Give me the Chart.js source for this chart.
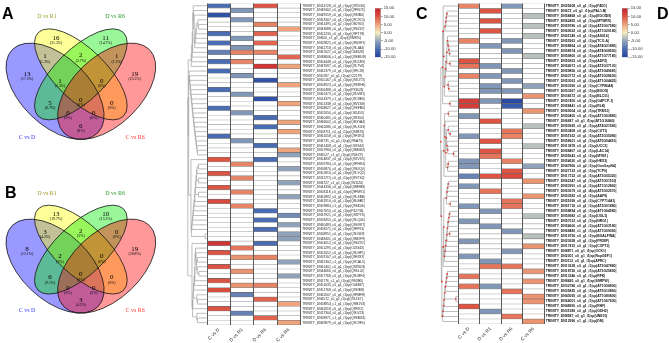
<!DOCTYPE html>
<html lang="en">
<head>
<meta charset="utf-8">
<title>Venn diagrams and DEG heatmaps</title>
<script src="https://cdn.jsdelivr.net/npm/chart.js@4.4.1/dist/chart.umd.min.js"></script>
<style>
  body { margin: 0; background: #fff; }
  #fig { position: relative; width: 669px; height: 343px; overflow: hidden; }
  #fig canvas { position: absolute; }
  .tag { position: absolute; font: bold 16px "Liberation Sans", Arial, sans-serif; line-height: 16px; color: #000; }
</style>
</head>
<body>
<div id="fig">
  <canvas id="vennA" width="165" height="170" style="left:0;top:0"></canvas>
  <canvas id="vennB" width="165" height="166" style="left:0;top:177px"></canvas>
  <canvas id="heat1" width="235" height="343" style="left:165px;top:0"></canvas>
  <canvas id="bar1" width="35" height="66" style="left:370px;top:0"></canvas>
  <canvas id="heat2" width="235" height="343" style="left:434px;top:0"></canvas>
  <canvas id="bar2" width="35" height="66" style="left:617px;top:0"></canvas>
  <div class="tag" style="left:2px;top:6px">A</div>
  <div class="tag" style="left:5px;top:185px">B</div>
  <div class="tag" style="left:416px;top:6px">C</div>
  <div class="tag" style="left:657px;top:6px">D</div>
</div>
<script>
  const _ = null;

  // venn regions, same order for both diagrams
  const vennRegions = ['C vs D', 'D vs R1', 'D vs R6', 'C vs R6',
    'C vs D & D vs R1', 'D vs R1 & D vs R6', 'D vs R6 & C vs R6',
    'C vs D & D vs R1 & D vs R6', 'D vs R1 & D vs R6 & C vs R6',
    'C vs D & D vs R6', 'D vs R1 & C vs R6', 'all four',
    'C vs D & D vs R6 & C vs R6', 'C vs D & D vs R1 & C vs R6', 'C vs D & C vs R6'];
  const vennACounts = [13, 16, 11, 19, 1, 2, 1, 1, 0, 5, 0, 0, 0, 0, 6];
  const vennBCounts = [8, 13, 10, 19, 3, 2, 0, 2, 0, 6, 0, 0, 0, 0, 3];
  const setNames = ['C vs D', 'D vs R1', 'D vs R6', 'C vs R6'];

  const contrasts = ['C vs D', 'D vs R1', 'D vs R6', 'C vs R6'];

  const hm1Genes = [
    'TRINITY_DN14728_c0_g1_i1|sp|Q9T0G0|', 'TRINITY_DN49402_c0_g1_i1|sp|Q9FN73|', 'TRINITY_DN49559_c0_g1_i1|sp|Q9SIB4|',
    'TRINITY_DN53307_c0_g1_i1|sp|Q9C9C5|', 'TRINITY_DN61495_c0_g2_i1|sp|O80763|', 'TRINITY_DN43688_c0_g1_i1|sp|Q9SZ67|',
    'TRINITY_DN51230_c0_g1_i1|sp|Q9FT78|', 'TRINITY_DN600_c1_g1_i1|sp|Q9M8T0|', 'TRINITY_DN59825_c0_g1_i1|sp|Q8W4F1|',
    'TRINITY_DN61718_c0_g1_i1|sp|Q9LJA4|', 'TRINITY_DN67027_c0_g2_i1|sp|O64628|', 'TRINITY_DN38606_c1_g1_i1|sp|Q9SMU8|',
    'TRINITY_DN54448_c0_g1_i1|sp|Q9LKR3|', 'TRINITY_DN37097_c0_g1_i1|sp|Q9LTV6|', 'TRINITY_DN62379_c0_g1_i1|sp|Q9FL28|',
    'TRINITY_DN5287_c0_g1_i1|sp|O22179|', 'TRINITY_DN55167_c0_g1_i1|sp|Q9ZUT3|', 'TRINITY_DN58923_c0_g1_i1|sp|Q9SRH6|',
    'TRINITY_DN56488_c0_g1_i1|sp|P93026|', 'TRINITY_DN62473_c0_g1_i1|sp|Q9LVM1|', 'TRINITY_DN14379_c1_g1_i1|sp|Q9C8E6|',
    'TRINITY_DN51338_c0_g1_i1|sp|Q8VZS8|', 'TRINITY_DN58827_c0_g1_i1|sp|Q9SFB0|', 'TRINITY_DN52056_c0_g1_i1|sp|O65453|',
    'TRINITY_DN60481_c0_g1_i1|sp|Q39204|', 'TRINITY_DN66602_c0_g1_i1|sp|Q8GYA4|', 'TRINITY_DN62086_c0_g1_i1|sp|Q9LXG3|',
    'TRINITY_DN58711_c0_g1_i1|sp|Q94BT6|', 'TRINITY_DN61058_c0_g1_i1|sp|Q9FJR2|', 'TRINITY_DN6735_c0_g1_i1|sp|Q9SA73|',
    'TRINITY_DN61408_c0_g1_i1|sp|O49344|', 'TRINITY_DN57984_c0_g1_i1|sp|Q9M0E2|', 'TRINITY_DN6527_c1_g1_i1|sp|Q9LEZ9|',
    'TRINITY_DN54837_c0_g1_i1|sp|Q9ZVX5|', 'TRINITY_DN59784_c0_g1_i1|sp|Q9FHK4|', 'TRINITY_DN56870_c0_g1_i1|sp|Q9SJQ0|',
    'TRINITY_DN52816_c0_g1_i1|sp|Q9LYQ2|', 'TRINITY_DN11770_c0_g1_i1|sp|Q9STS2|', 'TRINITY_DN6727_c1_g1_i1|sp|Q9ZUZ0|',
    'TRINITY_DN44336_c0_g1_i1|sp|Q9M9B3|', 'TRINITY_DN58118_c0_g1_i1|sp|Q9FMV1|', 'TRINITY_DN61892_c0_g1_i1|sp|Q9LSM6|',
    'TRINITY_DN61910_c0_g1_i1|sp|Q8LBB2|', 'TRINITY_DN59884_c1_g1_i1|sp|Q9SK06|', 'TRINITY_DN57050_c0_g1_i1|sp|P42736|',
    'TRINITY_DN37921_c0_g1_i1|sp|Q9ZPY6|', 'TRINITY_DN58455_c0_g1_i1|sp|Q9LQ04|', 'TRINITY_DN60483_c0_g1_i1|sp|Q9SVK7|',
    'TRINITY_DN58271_c0_g1_i1|sp|Q9FF91|', 'TRINITY_DN58951_c0_g1_i1|sp|Q9LN49|', 'TRINITY_DN48401_c0_g1_i1|sp|Q9M2F9|',
    'TRINITY_DN54612_c0_g1_i1|sp|Q9SZX2|', 'TRINITY_DN51295_c0_g1_i1|sp|O23343|', 'TRINITY_DN52052_c0_g1_i1|sp|Q9LHP1|',
    'TRINITY_DN59107_c0_g1_i1|sp|Q9FZ87|', 'TRINITY_DN61302_c1_g1_i1|sp|Q9CAL5|', 'TRINITY_DN61402_c0_g1_i1|sp|Q9ZNU3|',
    'TRINITY_DN44666_c0_g1_i1|sp|Q9SLJ2|', 'TRINITY_DN57768_c0_g1_i1|sp|Q9LMF4|', 'TRINITY_DN1776_c1_g1_i1|sp|Q9SXB5|',
    'TRINITY_DN51035_c0_g1_i1|sp|O04887|', 'TRINITY_DN51768_c0_g1_i1|sp|Q9SIM9|', 'TRINITY_DN62007_c0_g1_i1|sp|Q9FMF8|',
    'TRINITY_DN6572_c0_g1_i1|sp|Q9LZS7|', 'TRINITY_DN58854_c1_g1_i1|sp|Q9M1V3|', 'TRINITY_DN62618_c0_g1_i1|sp|Q9FIK7|',
    'TRINITY_DN17304_c0_g1_i1|sp|Q9LV23|', 'TRINITY_DN58971_c1_g1_i1|sp|Q9SMZ4|', 'TRINITY_DN69879_c0_g1_i1|sp|Q9C9F4|'
  ];
  const hm1CvsD = [-10,_,-13,_,_,_,-10,_,-10,_, -8,_,-10,_,-10,_,_,_,-10,_, _,_,-10,_,_,_,_,_,-10,_,
    _,_,_,10,_,_,10,_,_,10, _,_,11,_,_,_,_,_,_,_, _,13,_,10,_,_,10,_,_,10, _,11,_,_,_,10,_,_,_];
  const hm1DvsR1 = [_,-6,_,-6,_,_,_,-6,_,-6, 7,_,7,_,_,-6,_,_,_,-6, _,_,_,-6,_,_,_,_,_,-6,
    _,_,_,_,7,_,_,7,_,_, 7,_,_,7,_,_,_,_,_,_, _,_,8,_,6,_,_,6,_,_, 6,_,-8,_,_,_,-8,_,_];
  const hm1DvsR6 = [10,_,_,_,7,_,9,_,9,_, 7,_,_,13,_,_,-13,_,_,_, -13,_,_,_,-10,_,-10,_,_,_,
    -10,_,_,-10,_,_,_,_,_,_, _,_,_,_,-10,_,-10,_,-10,_, _,-10,_,_,7,_,_,_,_,_, 7,_,_,9,_,_,_,9,_];
  const hm1CvsR6 = [_,_,_,_,_,5,_,_,_,_, _,9,_,5,_,_,_,5,_,_, _,5,_,_,_,5,_,5,_,_,
    _,5,-5,_,_,-5,_,_,-5,_, _,-5,_,_,_,-7,_,-5,_,-5, -5,_,_,_,_,-5,_,_,-5,_, _,_,_,_,5,_,_,_,5];

  const hm2Genes = [
    'TRINITY_DN25608_c0_g1_i1|sp|FAD1|', 'TRINITY_DN672_c0_g1_i1|sp|PAL1.B|', 'TRINITY_DN58468_c0_g1_i1|sp|EGOID9|',
    'TRINITY_DN62455_c0_g1_i1|sp|MTWRX|', 'TRINITY_DN59786_c0_g2_i1|sp|AT2G07580|', 'TRINITY_DN69522_c0_g1_i1|sp|AT1G20180|',
    'TRINITY_DN61549_c0_g1_i1|sp|AS014|', 'TRINITY_DN55963_c0_g1_i1|sp|TCO-A|', 'TRINITY_DN58864_c0_g1_i1|sp|AT4G21880|',
    'TRINITY_DN58974_c0_g1_i1|sp|AT4G08550|', 'TRINITY_DN59800_c0_g1_i1|sp|AT1G77180|', 'TRINITY_DN59363_c0_g1_i1|sp|ADF2|',
    'TRINITY_DN54973_c0_g1_i1|sp|AT2G37130|', 'TRINITY_DN59856_c0_g1_i2|sp|AT3G49681|', 'TRINITY_DN63772_c0_g1_i1|sp|AT3G28600|',
    'TRINITY_DN53063_c0_g1_i1|sp|AT1G04425|', 'TRINITY_DN53290_c0_g1_i1|sp|CYP86A8|', 'TRINITY_DN53267_c0_g1_i1|sp|BGOS|',
    'TRINITY_DN38272_c0_g1_i1|sp|BLC01|', 'TRINITY_DN57400_c0_g1_i1|sp|GAPCP-1|', 'TRINITY_DN58441_c0_g1_i1|sp|RLK|',
    'TRINITY_DN69504_c0_g1_i1|sp|TRM10|', 'TRINITY_DN50405_c0_g1_i1|sp|AT1G53880|', 'TRINITY_DN6687_c0_g1_i1|sp|AT1G16840|',
    'TRINITY_DN50925_c0_g1_i1|sp|AT4G21580|', 'TRINITY_DN53408_c0_g1_i1|sp|CUT1|', 'TRINITY_DN51932_c0_g1_i1|sp|AT2G35080|',
    'TRINITY_DN58601_c0_g1_i1|sp|AT5G04410|', 'TRINITY_DN13878_c0_g1_i1|sp|UCC3|', 'TRINITY_DN58407_c0_g1_i1|sp|LAC14|',
    'TRINITY_DN55643_c0_g1_i1|sp|MYB1|', 'TRINITY_DN54620_c0_g1_i1|sp|HEX3|', 'TRINITY_DN47866_c0_g2_i1|sp|GoxGapN4|',
    'TRINITY_DN27122_c0_g1_i1|sp|TCP9|', 'TRINITY_DN17152_c0_g1_i1|sp|AT3G05320|', 'TRINITY_DN62347_c0_g1_i1|sp|AT3G01100|',
    'TRINITY_DN53991_c0_g1_i1|sp|AT1G12860|', 'TRINITY_DN53679_c0_g1_i4|sp|AT3G02570|', 'TRINITY_DN53582_c0_g1_i1|sp|AAP6|',
    'TRINITY_DN51699_c0_g1_i1|sp|CYP714A1|', 'TRINITY_DN51718_c0_g1_i1|sp|AT2G01880|', 'TRINITY_DN58894_c0_g1_i1|sp|AT1G64580|',
    'TRINITY_DN59982_c1_g1_i1|sp|UGL5|', 'TRINITY_DN57012_c0_g1_i1|sp|NRG1|', 'TRINITY_DN54606_c0_g1_i1|sp|AT1G03180|',
    'TRINITY_DN68480_c1_g1_i1|sp|AT1G09050|', 'TRINITY_DN19756_c0_g1_i1|sp|BGALFWA|', 'TRINITY_DN23658_c0_g1_i1|sp|PRXIIF|',
    'TRINITY_DN17815_c0_g1_i1|sp|COPT2|', 'TRINITY_DN8871_c0_g1_i1|sp|OCK1|', 'TRINITY_DN2001_c0_g1_i1|sp|RopGEF1|',
    'TRINITY_DN3112_c0_g1_i1|sp|APRC|', 'TRINITY_DN13638_c0_g1_i1|sp|AT2G47880|', 'TRINITY_DN18726_c0_g1_i1|sp|AT3G25800|',
    'TRINITY_DN13346_c0_g1_i1|sp|RFK|', 'TRINITY_DN8495_c0_g1_i1|sp|SSRPW|', 'TRINITY_DN32786_c0_g1_i1|sp|AT1G06800|',
    'TRINITY_DN35825_c0_g1_i1|sp|AT5G10860|', 'TRINITY_DN40095_c0_g1_i1|sp|AT1G80800|', 'TRINITY_DN64001_c0_g1_i1|sp|AT1G67600|',
    'TRINITY_DN48950_c0_g1_i1|sp|RHF|', 'TRINITY_DN31585_c0_g1_i1|sp|GDH2|', 'TRINITY_DN8587_c0_g1_i1|sp|UNE10|',
    'TRINITY_DN12996_c1_g1_i1|sp|DM|'
  ];
  const hm2CvsD = [7,_,_,_,_,_,_,7,_,_, _,10,8,_,7,_,_,_,_,12, 12,_,-6,_,_,_,-6,_,_,_,
    _,-6,-6,_,-8,_,-6,_,_,_, -6,_,_,-6,_,_,_,-6,_,_, -6,_,_,_,8,_,8,_,_,_, 10,_,_,_];
  const hm2DvsR1 = [_,10,_,10,_,10,_,_,-6,_, _,_,-6,_,-6,_,-6,-6,_,-6, _,_,_,10,_,_,_,10,_,10,
    8,_,_,_,10,_,_,8,_,_, _,-6,_,_,-6,_,_,_,_,_, _,-6,8,_,_,_,-6,_,_,_, _,-6,_,_];
  const hm2DvsR6 = [-6,_,_,_,_,_,_,-6,_,-6, _,_,_,-6,_,-6,_,-6,_,-14, -12,_,_,_,_,8,7,_,_,_,
    _,7,_,10,11,_,_,_,_,8, 8,_,_,_,_,-6,_,_,_,-6, _,_,8,_,_,_,_,8,_,_, _,_,8,_];
  const hm2CvsR6 = [_,_,-3,_,-3,_,-3,_,_,_, -3,_,_,_,_,_,-5,_,6,_, _,6,_,_,-3,_,_,_,-3,_,
    _,_,-5,_,_,6,_,_,6,_, _,_,-3,_,_,_,-3,_,6,_, _,_,_,6,_,6,_,_,6,6, _,_,_,6];

  // ---------- styling ----------
  Chart.defaults.font.family = '"Liberation Sans", Arial, sans-serif';
  Chart.defaults.animation = false;

  const colorStops = [[-15, [34, 64, 160]], [-10, [74, 108, 178]], [-5, [143, 162, 186]], [0, [245, 239, 191]],
    [5, [239, 164, 124]], [10, [220, 84, 68]], [15, [196, 32, 40]]];

  function cellColor(v) {
    if (v === null || v === undefined) return '#ffffff';
    for (let i = 0; i < colorStops.length - 1; i++) {
      const [v0, c0] = colorStops[i], [v1, c1] = colorStops[i + 1];
      if (v <= v1 || i === colorStops.length - 2) {
        const t = Math.max(0, Math.min(1, (v - v0) / (v1 - v0)));
        const c = c0.map((x, k) => Math.round(x + (c1[k] - x) * t));
        return 'rgb(' + c.join(',') + ')';
      }
    }
  }

  // ---------- venn ----------
  // VennDiagram quad layout in unit square
  const ellipses = [
    {x: 0.35, y: 0.47, a: 0.35, b: 0.20, rot: 135, fill: 'rgba(0,0,255,0.4)', text: '#3b3bff', lx: 0.187, ly: 0.199},
    {x: 0.50, y: 0.57, a: 0.35, b: 0.15, rot: 135, fill: 'rgba(255,255,0,0.4)', text: '#a0a030', lx: 0.303, ly: 0.912},
    {x: 0.50, y: 0.57, a: 0.35, b: 0.15, rot: 45, fill: 'rgba(0,235,0,0.4)', text: '#30a030', lx: 0.699, ly: 0.912},
    {x: 0.65, y: 0.47, a: 0.35, b: 0.20, rot: 45, fill: 'rgba(255,0,0,0.4)', text: '#ff3b3b', lx: 0.815, ly: 0.199}
  ];
  const regionPos = [[0.187, 0.571], [0.356, 0.784], [0.644, 0.784], [0.813, 0.571],
    [0.292, 0.675], [0.5, 0.681], [0.708, 0.675], [0.379, 0.528], [0.621, 0.528],
    [0.321, 0.400], [0.679, 0.400], [0.5, 0.419], [0.425, 0.339], [0.575, 0.339], [0.5, 0.262]];

  function vennPlugin(counts) {
    const total = counts.reduce((s, v) => s + v, 0);
    return {
      id: 'venn',
      afterDraw(chart) {
        const {ctx, scales: {x, y}} = chart;
        const sx = x.getPixelForValue(1) - x.getPixelForValue(0);
        const sy = y.getPixelForValue(0) - y.getPixelForValue(1);
        const shape = e => {
          ctx.save();
          ctx.translate(x.getPixelForValue(e.x), y.getPixelForValue(e.y));
          ctx.scale(sx, -sy);
          ctx.rotate(e.rot * Math.PI / 180);
          ctx.beginPath();
          ctx.ellipse(0, 0, e.a, e.b, 0, 0, 2 * Math.PI);
          ctx.restore();
        };
        ctx.save();
        ellipses.forEach(e => { shape(e); ctx.fillStyle = e.fill; ctx.fill(); });
        ctx.strokeStyle = '#111';
        ctx.lineWidth = 0.8;
        ellipses.forEach(e => { shape(e); ctx.stroke(); });

        ctx.textAlign = 'center';
        ctx.textBaseline = 'middle';
        ctx.fillStyle = '#000';
        counts.forEach((v, i) => {
          const px = x.getPixelForValue(regionPos[i][0]), py = y.getPixelForValue(regionPos[i][1]);
          ctx.font = '7px "Liberation Serif", serif';
          ctx.fillText(String(v), px, py);
          ctx.font = '3.8px "Liberation Serif", serif';
          ctx.fillText('(' + Math.round(v / total * 1000) / 10 + '%)', px, py + 5);
        });
        ctx.font = '6px "Liberation Serif", serif';
        setNames.forEach((name, i) => {
          const e = ellipses[i];
          ctx.fillStyle = e.text;
          ctx.fillText(name, x.getPixelForValue(e.lx), y.getPixelForValue(e.ly));
        });
        ctx.restore();
      }
    };
  }

  function makeVenn(id, counts) {
    new Chart(document.getElementById(id), {
      type: 'scatter',
      data: {datasets: []},
      options: {
        responsive: false,
        layout: {padding: 0},
        plugins: {legend: {display: false}, tooltip: {enabled: false}},
        scales: {
          x: {type: 'linear', min: 0.030, max: 0.989, display: false},
          y: {type: 'linear', min: 0.004, max: 1.010, display: false}
        }
      },
      plugins: [vennPlugin(counts)]
    });
  }

  makeVenn('vennA', vennACounts);
  makeVenn('vennB', vennBCounts);

  // ---------- heatmaps ----------
  // order-preserving clustering of adjacent rows, only for the dendrogram
  function orderedTree(cols) {
    const n = cols[0].length;
    let nodes = [];
    for (let r = 0; r < n; r++) {
      nodes.push({c: cols.map(col => col[r] === null ? 0 : col[r]), n: 1, h: 0, leaf: r});
    }
    const dist = (a, b) => Math.sqrt(a.reduce((s, v, k) => s + (v - b[k]) * (v - b[k]), 0));
    while (nodes.length > 1) {
      let best = 0, bd = Infinity;
      for (let i = 0; i < nodes.length - 1; i++) {
        const d = dist(nodes[i].c, nodes[i + 1].c);
        if (d < bd) { bd = d; best = i; }
      }
      const a = nodes[best], b = nodes[best + 1], m = a.n + b.n;
      nodes.splice(best, 2, {
        c: a.c.map((v, k) => (v * a.n + b.c[k] * b.n) / m), n: m,
        h: Math.max(bd, a.h, b.h) + 1, kids: [a, b]
      });
    }
    return nodes[0];
  }

  function dendroPlugin(tree, width, lineColor, dotColor) {
    return {
      id: 'dendro',
      afterDraw(chart) {
        const {ctx, chartArea} = chart;
        const yScale = chart.scales.y;
        const left = chartArea.left - 0.5;
        const maxH = tree.h;
        const dots = [];
        ctx.save();
        ctx.strokeStyle = lineColor;
        ctx.lineWidth = 0.7;
        const walk = node => {
          if (!node.kids) return {x: left, y: yScale.getPixelForValue(node.leaf + 0.5)};
          const p = node.kids.map(walk);
          const nx = left - width * Math.pow(node.h / maxH, 0.7);
          ctx.beginPath();
          ctx.moveTo(p[0].x, p[0].y); ctx.lineTo(nx, p[0].y); ctx.lineTo(nx, p[1].y); ctx.lineTo(p[1].x, p[1].y);
          ctx.stroke();
          const ny = (p[0].y + p[1].y) / 2;
          dots.push([nx, ny]);
          return {x: nx, y: ny};
        };
        walk(tree);
        if (dotColor) {
          ctx.fillStyle = dotColor;
          dots.forEach(([dx, dy]) => { ctx.beginPath(); ctx.arc(dx, dy, 0.9, 0, 2 * Math.PI); ctx.fill(); });
        }
        ctx.restore();
      }
    };
  }

  function makeHeatmap(id, cols, genes, o) {
    const cells = [];
    cols.forEach((col, c) => col.forEach((v, r) => cells.push({x: contrasts[c], y: [r, r + 1], v})));
    const tree = orderedTree(cols);
    new Chart(document.getElementById(id), {
      type: 'bar',
      data: {
        labels: contrasts,
        datasets: [{
          data: cells,
          backgroundColor: ctx => cellColor(ctx.raw ? ctx.raw.v : null),
          borderColor: ctx => (ctx.raw && ctx.raw.v !== null ? '#6a6a6a' : '#b4b4b4'),
          borderWidth: {top: 0.6, bottom: 0.6, left: 0, right: 0},
          borderSkipped: false,
          barPercentage: 1,
          categoryPercentage: 1
        }]
      },
      options: {
        responsive: false,
        layout: {padding: {left: o.padLeft, top: o.padTop, right: 0, bottom: 0}},
        plugins: {legend: {display: false}, tooltip: {enabled: false}},
        scales: {
          x: {
            type: 'category', offset: true,
            grid: {display: true, offset: true, color: '#5a5a5a', lineWidth: 1, drawTicks: false, z: 1},
            border: {display: false},
            ticks: {minRotation: 45, maxRotation: 45, padding: 2, color: '#333', font: {size: 4.8}},
            afterFit: s => { s.height = o.xHeight; }
          },
          y: {
            type: 'linear', position: 'right', reverse: true, min: 0, max: genes.length,
            grid: {display: false, drawTicks: false},
            border: {display: false},
            afterBuildTicks: s => { s.ticks = genes.map((g, i) => ({value: i + 0.5})); },
            ticks: {autoSkip: false, padding: 1.5, color: o.labelColor, font: {size: o.labelSize, weight: o.labelWeight},
              callback: (v, i) => genes[i]},
            afterFit: s => { s.width = o.yWidth; }
          }
        }
      },
      plugins: [dendroPlugin(tree, o.dendroWidth, o.lineColor, o.dotColor)]
    });
  }

  makeHeatmap('heat1', [hm1CvsD, hm1DvsR1, hm1DvsR6, hm1CvsR6], hm1Genes, {
    padLeft: 42.3, padTop: 1.7, xHeight: 18, yWidth: 99.3, dendroWidth: 19,
    labelSize: 3.3, labelWeight: 'normal', labelColor: '#222', lineColor: '#a0a0a0', dotColor: null
  });
  makeHeatmap('heat2', [hm2CvsD, hm2DvsR1, hm2DvsR6, hm2CvsR6], hm2Genes, {
    padLeft: 24.3, padTop: 1.7, xHeight: 19, yWidth: 124.7, dendroWidth: 17,
    labelSize: 3.4, labelWeight: 'bold', labelColor: '#111', lineColor: '#a0a0a0', dotColor: '#e03a30'
  });

  // ---------- colour keys ----------
  function makeKey(id) {
    new Chart(document.getElementById(id), {
      type: 'bar',
      data: {
        labels: ['key'],
        datasets: [{
          data: [[-15, 15]],
          backgroundColor: ctx => {
            const a = ctx.chart.chartArea;
            if (!a) return '#ccc';
            const g = ctx.chart.ctx.createLinearGradient(0, a.bottom, 0, a.top);
            colorStops.forEach(([v]) => g.addColorStop((v + 15) / 30, cellColor(v)));
            return g;
          },
          borderColor: '#888',
          borderWidth: 0.5,
          borderSkipped: false,
          barPercentage: 1,
          categoryPercentage: 1
        }]
      },
      options: {
        responsive: false,
        layout: {padding: {left: 5, top: 8.3, right: 0, bottom: 8.7}},
        plugins: {legend: {display: false}, tooltip: {enabled: false}},
        scales: {
          x: {display: false},
          y: {
            position: 'right', min: -15, max: 15,
            grid: {drawOnChartArea: false, tickLength: 2, color: '#444', lineWidth: 0.5},
            border: {display: false},
            ticks: {stepSize: 5, padding: 1, color: '#333', font: {size: 4.2}, callback: v => v.toFixed(2)},
            afterFit: s => { s.width = 24.3; }
          }
        }
      }
    });
  }
  makeKey('bar1');
  makeKey('bar2');
</script>
</body>
</html>
